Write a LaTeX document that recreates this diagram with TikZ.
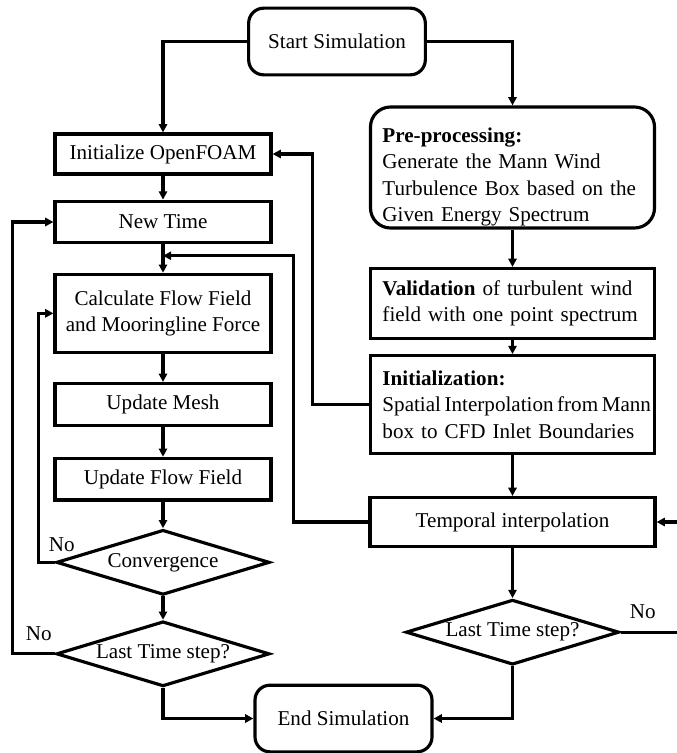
\documentclass[tikz,border=0pt]{standalone}
\usepackage{fontspec}
\setmainfont{Liberation Serif}
\usepackage{xcolor}
\usepackage{tikz}
\usetikzlibrary{arrows.meta, positioning, shapes.geometric, calc}

\begin{document}
\begin{tikzpicture}[
x=0.03cm, y=-0.03cm,
every node/.style={font=\fontsize{18pt}{22.6pt}\selectfont},
stepbox/.style={rectangle, draw=black, line width=2.7pt, minimum width=6.48cm, minimum height=1.25cm, align=center},
endbox/.style={rectangle, draw=black, line width=2.7pt, rounded corners=0.45cm, minimum width=5.3cm, minimum height=2cm},
widebox/.style={rectangle, draw=black, line width=2.7pt, minimum width=8.5cm, text width=7.8cm, inner xsep=0.36cm, align=left},
decide/.style={diamond, draw=black, line width=2.7pt, aspect=3.3, inner sep=0pt, minimum width=6.4cm, minimum height=1.95cm},
arr/.style={-{Triangle[length=7pt,width=7pt]}, line width=2.7pt},
lnk/.style={line width=2.7pt}
]
\useasboundingbox (0,0) rectangle (677,753);
\clip (0,0) rectangle (677,753);

% Start
\node[endbox] (start) at (337,41.5) {Start Simulation};

% Left column (solver loop)
\node[stepbox, minimum height=1.2cm] (init) at (163,154) {Initialize OpenFOAM};
\node[stepbox, below=0.72cm of init] (newtime) {New Time};
\node[stepbox, minimum height=2.34cm, below=0.85cm of newtime] (calc) {Calculate Flow Field\\and Mooringline Force};
\node[stepbox, below=0.84cm of calc] (mesh) {Update Mesh};
\node[stepbox, below=0.9cm of mesh] (flow) {Update Flow Field};
\node[decide, below=0.8cm of flow] (conv) {Convergence};
\node[decide, below=0.7cm of conv] (last) {Last Time step?};

% Right column (inflow)
\node[widebox, rounded corners=0.6cm, minimum height=3.63cm, inner ysep=0pt, text height=1cm] (pre) at (512.5,167.5) {\textbf{Pre-processing:}\\Generate the Mann Wind\\Turbulence Box based on the\\Given Energy Spectrum};
\node[widebox, minimum height=2.1cm, below=1.12cm of pre] (valid) {\textbf{Validation} of turbulent wind\\field with one point spectrum};
\node[widebox, minimum height=2.94cm, inner xsep=0.25cm, below=0.42cm of valid] (initz) {\textbf{Initialization:}\\\mbox{\spaceskip=0.17em Spatial Interpolation from Mann}\\box to CFD Inlet Boundaries};
\node[stepbox, minimum width=8.55cm, minimum height=1.47cm, below=1.22cm of initz] (temp) {Temporal interpolation};
\node[decide, below=1.5cm of temp] (rlast) {Last Time step?};

% End
\node[endbox, minimum width=5.31cm] (stop) at (343.5,718.5) {End Simulation};

% Labels
\node[inner sep=0pt] (no1) at ($(conv.west)+(7,-17.5)$) {No};
\node[inner sep=0pt] (no2) at ($(last.west)+(-16,-20)$) {No};
\node[inner sep=0pt] (no3) at ($(rlast.east)+(22,-20)$) {No};

\coordinate (join) at ($(newtime.south)!0.4!(calc.north)$);

% Arrows
\draw[arr] (start.west) -| (init.north);
\draw[arr] (start.east) -| (pre.north);
\draw[arr] (init) -- (newtime);
\draw[arr] (newtime) -- (calc);
\draw[arr] (calc) -- (mesh);
\draw[arr] (mesh) -- (flow);
\draw[arr] (flow) -- (conv);
\draw[arr] (conv) -- (last);
\draw[arr] (conv.west) -- ++(-16,0) |- (calc.west);
\draw[arr] (last.west) -- ++(-42,0) |- (newtime.west);
\draw[arr] (last.south) |- (stop.west);

\draw[arr] (pre) -- (valid);
\draw[arr] (valid) -- (initz);
\draw[arr] (initz) -- (temp);
\draw[arr] (temp) -- (rlast);
\draw[arr] (rlast.south) |- (stop.east);
\draw[arr] (rlast.east) -- ++(75,0) |- (temp.east);

\draw[arr] (initz.west) -- ++(-57,0) |- (init.east);
\draw[arr] (temp.west) -- ++(-75,0) |- (join);

\end{tikzpicture}
\end{document}
